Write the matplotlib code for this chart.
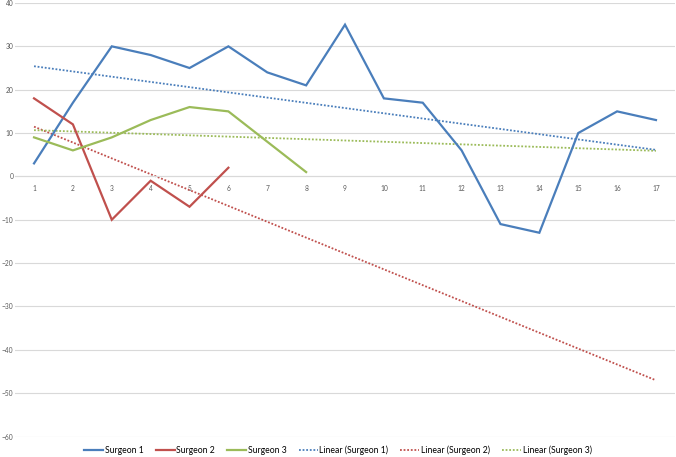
import numpy as np
import matplotlib
matplotlib.use('Agg')
import matplotlib.pyplot as plt

# Case number on the category axis
cases = list(range(1, 18))

# Values
surgeon1 = [3, 17, 30, 28, 25, 30, 24, 21, 35, 18, 17, 6, -11, -13, 10, 15, 13]
surgeon2 = [18, 12, -10, -1, -7, 2]
surgeon3 = [9, 6, 9, 13, 16, 15, 8, 1]

labels = ['Surgeon 1', 'Surgeon 2', 'Surgeon 3']
colors = ['#4A7EBB', '#C0504D', '#9BBB59']
yticks = list(range(-60, 50, 10))

plt.rcParams['font.family'] = ['Lato', 'DejaVu Sans']

fig = plt.figure(figsize=(6.76, 4.57), dpi=100)
ax = fig.add_axes([14.6 / 676, 1 - 436.5 / 457, 660.8 / 676, 433.5 / 457])

series = [surgeon1, surgeon2, surgeon3]
x_all = np.array(cases)

# Solid lines
for vals, col, lab in zip(series, colors, labels):
    ax.plot(cases[:len(vals)], vals, color=col, lw=1.6, label=lab,
            solid_joinstyle='miter', zorder=3)

# Linear trendlines (fitted on the points, drawn over all cases)
for vals, col, lab in zip(series, colors, labels):
    xs = np.array(cases[:len(vals)])
    k, b = np.polyfit(xs, vals, 1)
    ax.plot(x_all, k * x_all + b, color=col, lw=1.3, ls=(0, (1, 1)),
            label='Linear (%s)' % lab, zorder=2)

ax.set_xlim(0.5, 17.5)
ax.set_ylim(-60, 40)
ax.set_yticks(yticks)
ax.set_xticks(cases)
ax.set_xticklabels([str(c) for c in cases])
ax.yaxis.grid(True, color='#D9D9D9', lw=0.8)
ax.set_axisbelow(True)

for s in ['top', 'right', 'left']:
    ax.spines[s].set_visible(False)
ax.spines['bottom'].set_position(('data', 0))
ax.spines['bottom'].set_color('#D9D9D9')
ax.spines['bottom'].set_linewidth(0.8)

ax.tick_params(axis='both', length=0, labelsize=4.8, labelcolor='#595959')
ax.tick_params(axis='x', pad=6)
ax.tick_params(axis='y', pad=1)

ax.legend(loc='center', bbox_to_anchor=(0.5, 1 - 450.5 / 457), bbox_transform=fig.transFigure,
          ncol=6, frameon=False, fontsize=6.2, handlelength=2.2, handletextpad=0.2,
          columnspacing=1.4)

fig.savefig('out.png', dpi=100)
